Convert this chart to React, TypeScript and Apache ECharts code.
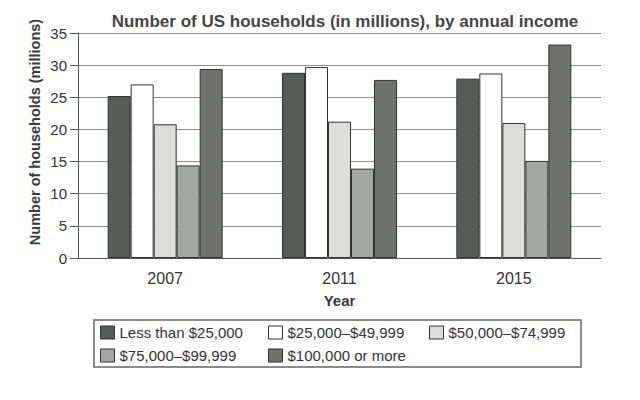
import React, { useEffect, useRef } from "react";
import * as echarts from "echarts";

const years = ["2007", "2011", "2015"];
const seriesNames = [
  "Less than $25,000",
  "$25,000–$49,999",
  "$50,000–$74,999",
  "$75,000–$99,999",
  "$100,000 or more",
];
const under25k = [25.2, 28.8, 27.9];
const from25kTo50k = [27.0, 29.7, 28.7];
const from50kTo75k = [20.8, 21.2, 21.0];
const from75kTo100k = [14.4, 13.9, 15.1];
const over100k = [29.4, 27.7, 33.2];
const colors = ["#565b58", "#ffffff", "#dddddc", "#a4a6a3", "#6f726f"];

const font = "'Liberation Sans', Arial, sans-serif";

// legend slots: [left, top]
const legendSpots = [
  [100, 325],
  [268, 325],
  [429, 325],
  [100, 348],
  [268, 348],
];

const App: React.FC = () => {
  const chartRef = useRef<HTMLDivElement>(null);

  useEffect(() => {
    if (!chartRef.current) return;
    const chart = echarts.init(chartRef.current, undefined, { renderer: "svg" });
    const values = [under25k, from25kTo50k, from50kTo75k, from75kTo100k, over100k];

    const option = {
      animation: false,
      backgroundColor: "#ffffff",
      textStyle: { fontFamily: font },
      title: {
        text: "Number of US households (in millions), by annual income",
        left: 340,
        top: 8,
        textAlign: "center",
        textStyle: { fontSize: 17, fontWeight: "bold", color: "#454545", fontFamily: font },
      },
      legend: seriesNames.map((name, i) => ({
        data: [name],
        left: legendSpots[i][0],
        top: legendSpots[i][1],
        padding: 0,
        icon: "rect",
        itemWidth: 14,
        itemHeight: 13,
        selectedMode: false,
        itemStyle: { borderColor: "#333", borderWidth: 1 },
        textStyle: { fontSize: 15, color: "#333", fontFamily: font },
      })),
      grid: { left: 78, right: 39, top: 33, bottom: 142 },
      xAxis: {
        type: "category",
        data: years,
        name: "Year",
        nameLocation: "middle",
        nameGap: 35,
        nameTextStyle: { fontSize: 15, fontWeight: "bold", color: "#3a3a3a" },
        axisLine: { lineStyle: { color: "#555", width: 1 } },
        axisTick: { length: 7, lineStyle: { color: "#555" } },
        axisLabel: { fontSize: 16, color: "#333", margin: 12 },
      },
      yAxis: {
        type: "value",
        min: 0,
        max: 35,
        interval: 5,
        axisLine: { show: true, lineStyle: { color: "#555", width: 1 } },
        axisTick: { show: true, length: 8, lineStyle: { color: "#555" } },
        axisLabel: { fontSize: 15, color: "#333", margin: 11 },
        splitLine: { lineStyle: { color: "#8c8c8c", width: 1 } },
      },
      graphic: [
        {
          type: "rect",
          shape: { x: 94, y: 320, width: 487, height: 47 },
          style: { fill: "none", stroke: "#666", lineWidth: 1.5 },
        },
        {
          type: "text",
          x: 35,
          y: 132,
          rotation: Math.PI / 2,
          style: {
            text: "Number of households (millions)",
            fontSize: 14.5,
            fontWeight: "bold",
            fontFamily: font,
            fill: "#3a3a3a",
            textAlign: "center",
            textVerticalAlign: "middle",
          },
        },
      ],
      series: seriesNames.map((name, i) => ({
        name,
        type: "bar",
        data: values[i],
        barWidth: 23,
        barGap: "0%",
        itemStyle: { color: colors[i], borderColor: "#333", borderWidth: 1 },
      })),
    };

    chart.setOption(option);

    return () => {
      chart.dispose();
    };
  }, []);

  return (
    <div
      ref={chartRef}
      style={{ position: "fixed", left: 0, top: 0, width: "640px", height: "400px" }}
    />
  );
};

export default App;
